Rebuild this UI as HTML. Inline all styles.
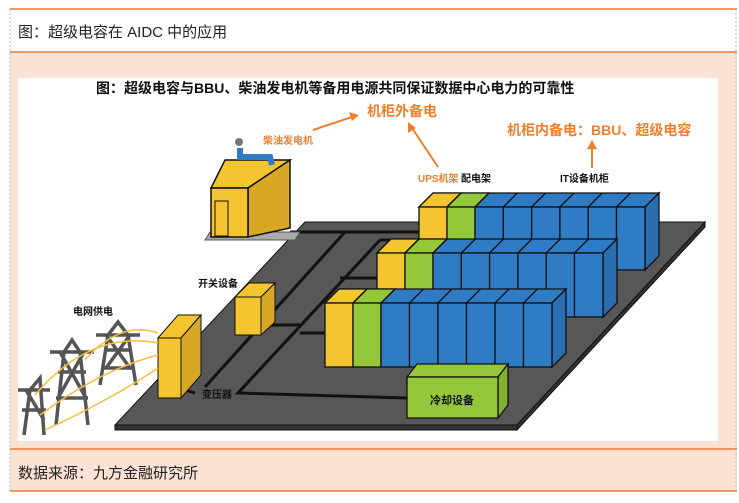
<!DOCTYPE html>
<html><head><meta charset="utf-8"><style>
html,body{margin:0;padding:0;background:#fff;width:739px;height:503px;overflow:hidden}
.t{font-family:"Liberation Sans","Noto Sans CJK SC",sans-serif}
</style></head><body>
<svg width="739" height="503" viewBox="0 0 739 503" xmlns="http://www.w3.org/2000/svg" style="position:absolute;left:0;top:0">
<rect x="10" y="52" width="727" height="439" fill="#fbe2d5"/>
<line x1="10" y1="9" x2="737" y2="9" stroke="#e8793a" stroke-width="1.5"/>
<line x1="10" y1="52" x2="737" y2="52" stroke="#e8793a" stroke-width="1.5"/>
<line x1="10" y1="449" x2="737" y2="449" stroke="#e8793a" stroke-width="1.5"/>
<line x1="10" y1="491" x2="737" y2="491" stroke="#e8793a" stroke-width="1.5"/>
<line x1="10" y1="9" x2="10" y2="491" stroke="#bbb" stroke-dasharray="2,2"/>
<line x1="736" y1="9" x2="736" y2="491" stroke="#bbb" stroke-dasharray="2,2"/>
<text x="18" y="37" class="t" font-size="15" fill="#222">图：超级电容在 AIDC 中的应用</text>
<text x="18" y="478" class="t" font-size="15" fill="#222">数据来源：九方金融研究所</text>
<rect x="18" y="78" width="700" height="363" fill="#fff"/>
<text x="96" y="93" class="t" font-size="14" font-weight="bold" fill="#111">图：超级电容与BBU、柴油发电机等备用电源共同保证数据中心电力的可靠性</text>
<!-- platform -->
<polygon points="115,425 517,425 517,430 115,430" fill="#333" stroke="#111"/>
<polygon points="517,425 705,222 705,227 517,430" fill="#333" stroke="#111"/>
<polygon points="305,222 705,222 517,425 115,425" fill="#575757" stroke="#111"/>
<!-- lines -->
<g stroke="#111" stroke-width="3" fill="none">
<polyline points="290,232 420,232"/>
<polyline points="345,232 205,387"/>
<polyline points="380,240 420,240"/>
<polyline points="380,240 238,393 407,398"/>
<polyline points="340,278 377,278"/>
<polyline points="300,333 325,333"/>
<polyline points="261,325 300,325"/>
<polyline points="185,390 195,393"/>
</g>
<!-- generator -->
<polygon points="205,240 295,240 300,232 210,232" fill="#aaa" stroke="#555"/>
<polygon points="211,188 225,160 290,160 248,188" fill="#f4c431" stroke="#111" stroke-width="1.5"/>
<polygon points="248,188 290,160 290,228 248,237" fill="#d9a726" stroke="#111" stroke-width="1.5"/>
<rect x="211" y="188" width="37" height="49" fill="#f4c431" stroke="#111" stroke-width="1.5"/>
<rect x="215" y="201" width="13" height="35" fill="#f4c431" stroke="#111"/>
<path d="M240 148 L240 157 L270 157 L272 165" stroke="#2f7bc4" stroke-width="6" fill="none"/>
<circle cx="239" cy="142" r="4" fill="#777"/>
<!-- switch -->
<polygon points="235,297 249,283 275,283 261,297" fill="#f4c431" stroke="#111"/>
<polygon points="261,297 275,283 275,322 261,335" fill="#d9a726" stroke="#111"/>
<rect x="235" y="297" width="26" height="38" fill="#f4c431" stroke="#111"/>
<!-- transformer -->
<polygon points="158,338 178,315 201,315 181,338" fill="#f4c431" stroke="#111"/>
<polygon points="181,338 201,315 201,375 181,398" fill="#d9a726" stroke="#111"/>
<rect x="158" y="338" width="23" height="60" fill="#f4c431" stroke="#111"/>
<!-- towers -->
<g stroke="#555" stroke-width="3.5" fill="none">
<path d="M100 385 L108 335 L118 322 L128 335 L136 385 M96 335 L140 335 M104 350 L132 350 M102 368 L134 368 M106 335 L130 368 M130 335 L106 368"/>
<path d="M56 425 L64 352 L72 340 L80 352 L88 425 M50 352 L94 352 M58 372 L86 372 M56 398 L88 398 M60 352 L86 398 M84 352 L58 398"/>
<path d="M24 435 L30 390 L40 378 L44 435 M18 390 L50 390 M22 410 L46 410 M26 390 L44 420"/>
</g>
<g stroke="#f0c040" stroke-width="1.5" fill="none">
<path d="M35 395 Q90 330 158 343"/><path d="M40 415 Q100 370 158 355"/>
<path d="M45 430 Q110 400 158 368"/><path d="M85 360 Q120 320 158 333"/>
</g>
<!-- racks -->
<g stroke="#111" stroke-width="1.3">
<!-- row1 -->
<polygon points="419,207 433,193 659,193 645,207" fill="#2f7bc4"/>
<polygon points="419,207 433,193 461,193 447,207" fill="#f4c431"/>
<polygon points="447,207 461,193 489,193 475,207" fill="#93c83a"/>
<polygon points="645,207 659,193 659,256 645,270" fill="#2a6db0"/>
<rect x="419" y="207" width="28" height="63" fill="#f4c431"/><rect x="447" y="207" width="28" height="63" fill="#93c83a"/>
<rect x="475" y="207" width="28.3" height="63" fill="#2f7bc4"/><rect x="503.3" y="207" width="28.3" height="63" fill="#2f7bc4"/><rect x="531.6" y="207" width="28.3" height="63" fill="#2f7bc4"/><rect x="559.9" y="207" width="28.3" height="63" fill="#2f7bc4"/><rect x="588.2" y="207" width="28.3" height="63" fill="#2f7bc4"/><rect x="616.5" y="207" width="28.5" height="63" fill="#2f7bc4"/>
<path d="M447 207 l14 -14 M475 207 l14 -14 M503.3 207 l14 -14 M531.6 207 l14 -14 M559.9 207 l14 -14 M588.2 207 l14 -14 M616.5 207 l14 -14" fill="none"/>
<!-- row2 -->
<polygon points="377,253 391,239 617,239 603,253" fill="#2f7bc4"/>
<polygon points="377,253 391,239 419,239 405,253" fill="#f4c431"/>
<polygon points="405,253 419,239 447,239 433,253" fill="#93c83a"/>
<polygon points="603,253 617,239 617,303 603,317" fill="#2a6db0"/>
<rect x="377" y="253" width="28" height="64" fill="#f4c431"/><rect x="405" y="253" width="28" height="64" fill="#93c83a"/>
<rect x="433" y="253" width="28.3" height="64" fill="#2f7bc4"/><rect x="461.3" y="253" width="28.3" height="64" fill="#2f7bc4"/><rect x="489.6" y="253" width="28.3" height="64" fill="#2f7bc4"/><rect x="517.9" y="253" width="28.3" height="64" fill="#2f7bc4"/><rect x="546.2" y="253" width="28.3" height="64" fill="#2f7bc4"/><rect x="574.5" y="253" width="28.5" height="64" fill="#2f7bc4"/>
<path d="M405 253 l14 -14 M433 253 l14 -14 M461.3 253 l14 -14 M489.6 253 l14 -14 M517.9 253 l14 -14 M546.2 253 l14 -14 M574.5 253 l14 -14" fill="none"/>
<!-- row3 -->
<polygon points="325,303 339,289 566,289 552,303" fill="#2f7bc4"/>
<polygon points="325,303 339,289 367,289 353,303" fill="#f4c431"/>
<polygon points="353,303 367,289 395,289 381,303" fill="#93c83a"/>
<polygon points="552,303 566,289 566,353 552,367" fill="#2a6db0"/>
<rect x="325" y="303" width="28" height="64" fill="#f4c431"/><rect x="353" y="303" width="28" height="64" fill="#93c83a"/>
<rect x="381" y="303" width="28.5" height="64" fill="#2f7bc4"/><rect x="409.5" y="303" width="28.5" height="64" fill="#2f7bc4"/><rect x="438" y="303" width="28.5" height="64" fill="#2f7bc4"/><rect x="466.5" y="303" width="28.5" height="64" fill="#2f7bc4"/><rect x="495" y="303" width="28.5" height="64" fill="#2f7bc4"/><rect x="523.5" y="303" width="28.5" height="64" fill="#2f7bc4"/>
<path d="M353 303 l14 -14 M381 303 l14 -14 M409.5 303 l14 -14 M438 303 l14 -14 M466.5 303 l14 -14 M495 303 l14 -14 M523.5 303 l14 -14" fill="none"/>
<!-- cooling -->
<polygon points="407,377 417,364 508,364 498,377" fill="#93c83a"/>
<polygon points="498,377 508,364 508,405 498,418" fill="#7fb02f"/>
<rect x="407" y="377" width="91" height="41" fill="#93c83a"/>
</g>
<g class="t" font-weight="bold">
<text x="452" y="404" text-anchor="middle" font-size="11" fill="#111">冷却设备</text>
<text x="367" y="116" font-size="14" fill="#ee7f2d">机柜外备电</text>
<text x="507" y="135" font-size="14" fill="#ee7f2d">机柜内备电：BBU、超级电容</text>
<text x="263" y="144" font-size="10" fill="#ee7f2d">柴油发电机</text>
<text x="418" y="182" font-size="10" fill="#ee7f2d">UPS机架</text>
<text x="461" y="182" font-size="10" fill="#111">配电架</text>
<text x="560" y="182" font-size="10" fill="#111">IT设备机柜</text>
<text x="198" y="287" font-size="10" fill="#111">开关设备</text>
<text x="73" y="315" font-size="10" fill="#111">电网供电</text>
<text x="202" y="398" font-size="10" fill="#111">变压器</text>
</g>
<g stroke="#ee7f2d" stroke-width="2" fill="#ee7f2d">
<line x1="313" y1="130" x2="352" y2="117"/><polygon points="359,115 349,112 352,121" stroke="none"/>
<line x1="438" y1="167" x2="412" y2="128"/><polygon points="408,122 408,133 416,128" stroke="none"/>
<line x1="592" y1="168" x2="592" y2="147"/><polygon points="592,140 587,149 597,149" stroke="none"/>
</g>
</svg>
</body></html>
